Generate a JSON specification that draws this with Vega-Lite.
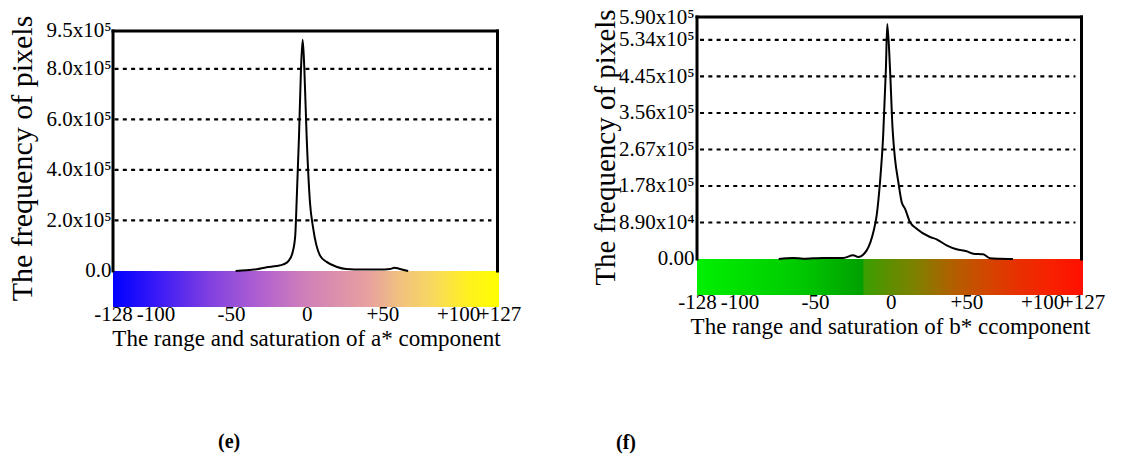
{
  "$schema": "https://vega.github.io/schema/vega-lite/v6.json",
  "background": "white",
  "padding": {"left": 6, "top": 6, "right": 5, "bottom": 5},
  "bounds": "flush",
  "spacing": 198,
  "config": {
    "view": {"stroke": null},
    "font": "Liberation Serif",
    "axis": {
      "labelFont": "Liberation Serif",
      "titleFont": "Liberation Serif",
      "labelColor": "black",
      "titleColor": "black",
      "titleFontWeight": "normal",
      "labelFontSize": 21,
      "domain": false,
      "ticks": false,
      "grid": false,
      "labelOverlap": false,
      "labelBound": false
    },
    "title": {"font": "Liberation Serif", "color": "black"}
  },
  "hconcat": [
    {
      "width": 386,
      "height": 290,
      "title": {"text": "(e)", "orient": "bottom", "anchor": "start", "frame": "group", "dx": 105, "offset": 82, "fontSize": 20, "fontWeight": "bold"},
      "resolve": {"axis": {"x": "independent", "y": "independent"}},
      "layer": [
        {
          "data": {"values": [{"lo": -128, "hi": 127}]},
          "mark": {"type": "rect", "fill": {"gradient": "linear", "x1": 0, "y1": 0, "x2": 1, "y2": 0, "stops": [
            {"offset": 0, "color": "#0000ff"},
            {"offset": 0.11, "color": "#3818f8"},
            {"offset": 0.25, "color": "#8040e0"},
            {"offset": 0.38, "color": "#b060d0"},
            {"offset": 0.5, "color": "#d080b8"},
            {"offset": 0.66, "color": "#e8a0a0"},
            {"offset": 0.74, "color": "#f0c080"},
            {"offset": 0.827, "color": "#f8d860"},
            {"offset": 0.918, "color": "#fff020"},
            {"offset": 1, "color": "#ffff00"}
          ]}},
          "encoding": {
            "x": {"field": "lo", "type": "quantitative", "scale": {"domain": [-128, 127], "nice": false, "zero": false},
              "axis": {"title": "The range and saturation of a* component", "titleFontSize": 23, "values": [-128, -100, -50, 0, 50, 100, 127],
                "labelExpr": "datum.value > 0 ? '+' + datum.value : '' + datum.value", "labelFlush": false, "labelOverlap": false, "labelPadding": -4, "titlePadding": 3}},
            "x2": {"field": "hi"},
            "y": {"datum": 0, "type": "quantitative", "scale": {"domain": [-142500, 1005400], "nice": false, "zero": false},
              "axis": {"title": "The frequency of pixels", "titleFontSize": 30, "titleX": -91, "titleY": 141, "titleBaseline": "middle", "titleAlign": "center", "titleAngle": -90,
                "values": [0, 200000, 400000, 600000, 800000, 950000], "labelOverlap": false,
                "labelExpr": "datum.value == 0 ? '0.0' : format(datum.value / 100000, '.1f') + 'x10⁵'", "labelPadding": 2}},
            "y2": {"datum": -142500}
          }
        },
        {
          "data": {"values": [{"g": 200000}, {"g": 400000}, {"g": 600000}, {"g": 800000}]},
          "mark": {"type": "rule", "color": "black", "strokeWidth": 2.2, "strokeDash": [4, 4.3]},
          "encoding": {
            "y": {"field": "g", "type": "quantitative", "scale": {"domain": [-142500, 1005400], "nice": false, "zero": false}, "axis": null},
            "x": {"datum": -127, "type": "quantitative", "scale": {"domain": [-128, 127], "nice": false, "zero": false}, "axis": null},
            "x2": {"datum": 122}
          }
        },
        {
          "data": {"values": [
            {"v": -47, "f": 0}, {"v": -40, "f": 2500}, {"v": -33, "f": 7000}, {"v": -26.5, "f": 15000}, {"v": -20, "f": 19500},
            {"v": -15.5, "f": 26000}, {"v": -12, "f": 40000}, {"v": -9.3, "f": 75000}, {"v": -7.6, "f": 141000}, {"v": -6.7, "f": 273000},
            {"v": -5.1, "f": 537000}, {"v": -3.8, "f": 801000}, {"v": -2.7, "f": 915000}, {"v": -1.6, "f": 801000}, {"v": -0.1, "f": 537000},
            {"v": 2.1, "f": 273000}, {"v": 4.3, "f": 167000}, {"v": 8.7, "f": 62000}, {"v": 13.1, "f": 36000}, {"v": 20, "f": 16000},
            {"v": 26, "f": 8000}, {"v": 37, "f": 6000}, {"v": 48, "f": 6000}, {"v": 55, "f": 8000}, {"v": 58, "f": 13000},
            {"v": 61, "f": 9000}, {"v": 67, "f": 0}
          ]},
          "mark": {"type": "line", "color": "black", "strokeWidth": 2, "interpolate": "monotone"},
          "encoding": {
            "x": {"field": "v", "type": "quantitative", "scale": {"domain": [-128, 127], "nice": false, "zero": false}, "axis": null},
            "y": {"field": "f", "type": "quantitative", "scale": {"domain": [-142500, 1005400], "nice": false, "zero": false}, "axis": null}
          }
        },
        {
          "data": {"values": [
            {"xa": -128, "ya": 0, "xb": -128, "yb": 950000},
            {"xa": -128, "ya": 950000, "xb": 126, "yb": 950000},
            {"xa": 126, "ya": 0, "xb": 126, "yb": 950000}
          ]},
          "mark": {"type": "rule", "color": "black", "strokeWidth": 3, "strokeCap": "square"},
          "encoding": {
            "x": {"field": "xa", "type": "quantitative", "scale": {"domain": [-128, 127], "nice": false, "zero": false}, "axis": null},
            "x2": {"field": "xb"},
            "y": {"field": "ya", "type": "quantitative", "scale": {"domain": [-142500, 1005400], "nice": false, "zero": false}, "axis": null},
            "y2": {"field": "yb"}
          }
        }
      ]
    },
    {
      "width": 386,
      "height": 278,
      "title": {"text": "(f)", "orient": "bottom", "anchor": "start", "frame": "group", "dx": -81, "offset": 95, "fontSize": 20, "fontWeight": "bold"},
      "resolve": {"axis": {"x": "independent", "y": "independent"}},
      "layer": [
        {
          "data": {"values": [{"lo": -128, "hi": 127}]},
          "mark": {"type": "rect", "fill": {"gradient": "linear", "x1": 0, "y1": 0, "x2": 1, "y2": 0, "stops": [
            {"offset": 0, "color": "#00f000"},
            {"offset": 0.25, "color": "#00cc00"},
            {"offset": 0.43, "color": "#00a000"},
            {"offset": 0.432, "color": "#38a000"},
            {"offset": 0.49, "color": "#5a9000"},
            {"offset": 0.57, "color": "#808000"},
            {"offset": 0.66, "color": "#b06000"},
            {"offset": 0.745, "color": "#d04800"},
            {"offset": 0.83, "color": "#e83000"},
            {"offset": 0.918, "color": "#f82000"},
            {"offset": 1, "color": "#ff1000"}
          ]}},
          "encoding": {
            "x": {"field": "lo", "type": "quantitative", "scale": {"domain": [-128, 127], "nice": false, "zero": false},
              "axis": {"title": "The range and saturation of b* ccomponent", "titleFontSize": 23, "values": [-128, -100, -50, 0, 50, 100, 127],
                "labelExpr": "datum.value > 0 ? '+' + datum.value : '' + datum.value", "labelFlush": false, "labelOverlap": false, "labelPadding": -4, "titlePadding": 3}},
            "x2": {"field": "hi"},
            "y": {"datum": 0, "type": "quantitative", "scale": {"domain": [-87770, 590000], "nice": false, "zero": false},
              "axis": {"title": "The frequency of pixels", "titleFontSize": 29, "titleX": -92, "titleY": 130, "titleBaseline": "middle", "titleAlign": "center", "titleAngle": -90,
                "values": [0, 89000, 178000, 267000, 356000, 445000, 534000, 590000], "labelOverlap": false,
                "labelExpr": "datum.value == 0 ? '0.00' : datum.value < 100000 ? format(datum.value / 10000, '.2f') + 'x10⁴' : format(datum.value / 100000, '.2f') + 'x10⁵'", "labelPadding": 3}},
            "y2": {"datum": -87770}
          }
        },
        {
          "data": {"values": [{"g": 89000}, {"g": 178000}, {"g": 267000}, {"g": 356000}, {"g": 445000}, {"g": 534000}]},
          "mark": {"type": "rule", "color": "black", "strokeWidth": 2.2, "strokeDash": [4, 4.3]},
          "encoding": {
            "y": {"field": "g", "type": "quantitative", "scale": {"domain": [-87770, 590000], "nice": false, "zero": false}, "axis": null},
            "x": {"datum": -126, "type": "quantitative", "scale": {"domain": [-128, 127], "nice": false, "zero": false}, "axis": null},
            "x2": {"datum": 122}
          }
        },
        {
          "data": {"values": [
            {"v": -74, "f": 0}, {"v": -64.4, "f": 2400}, {"v": -58, "f": 800}, {"v": -51.2, "f": 1600}, {"v": -44.6, "f": 2400},
            {"v": -31.4, "f": 2400}, {"v": -24.8, "f": 9000}, {"v": -21.5, "f": 4900}, {"v": -15.9, "f": 21100}, {"v": -11.5, "f": 65800},
            {"v": -9.3, "f": 106500}, {"v": -7.1, "f": 187700}, {"v": -5.0, "f": 301600}, {"v": -3.2, "f": 464000}, {"v": -2.3, "f": 573000},
            {"v": -0.5, "f": 464000}, {"v": 1.2, "f": 317700}, {"v": 2.8, "f": 244600}, {"v": 5.0, "f": 187700}, {"v": 7.2, "f": 139000},
            {"v": 9.4, "f": 122700}, {"v": 12.7, "f": 90200}, {"v": 17.1, "f": 73900}, {"v": 25.9, "f": 53600}, {"v": 30.3, "f": 47900},
            {"v": 36.9, "f": 33300}, {"v": 43.5, "f": 23600}, {"v": 50.1, "f": 18700}, {"v": 54.5, "f": 13000}, {"v": 61.1, "f": 11400},
            {"v": 65.5, "f": 1600}, {"v": 72, "f": 500}, {"v": 80.7, "f": 0}
          ]},
          "mark": {"type": "line", "color": "black", "strokeWidth": 2, "interpolate": "monotone"},
          "encoding": {
            "x": {"field": "v", "type": "quantitative", "scale": {"domain": [-128, 127], "nice": false, "zero": false}, "axis": null},
            "y": {"field": "f", "type": "quantitative", "scale": {"domain": [-87770, 590000], "nice": false, "zero": false}, "axis": null}
          }
        },
        {
          "data": {"values": [
            {"xa": -128, "ya": 0, "xb": -128, "yb": 590000},
            {"xa": -128, "ya": 590000, "xb": 126, "yb": 590000},
            {"xa": 126, "ya": 0, "xb": 126, "yb": 590000}
          ]},
          "mark": {"type": "rule", "color": "black", "strokeWidth": 3, "strokeCap": "square"},
          "encoding": {
            "x": {"field": "xa", "type": "quantitative", "scale": {"domain": [-128, 127], "nice": false, "zero": false}, "axis": null},
            "x2": {"field": "xb"},
            "y": {"field": "ya", "type": "quantitative", "scale": {"domain": [-87770, 590000], "nice": false, "zero": false}, "axis": null},
            "y2": {"field": "yb"}
          }
        }
      ]
    }
  ]
}
